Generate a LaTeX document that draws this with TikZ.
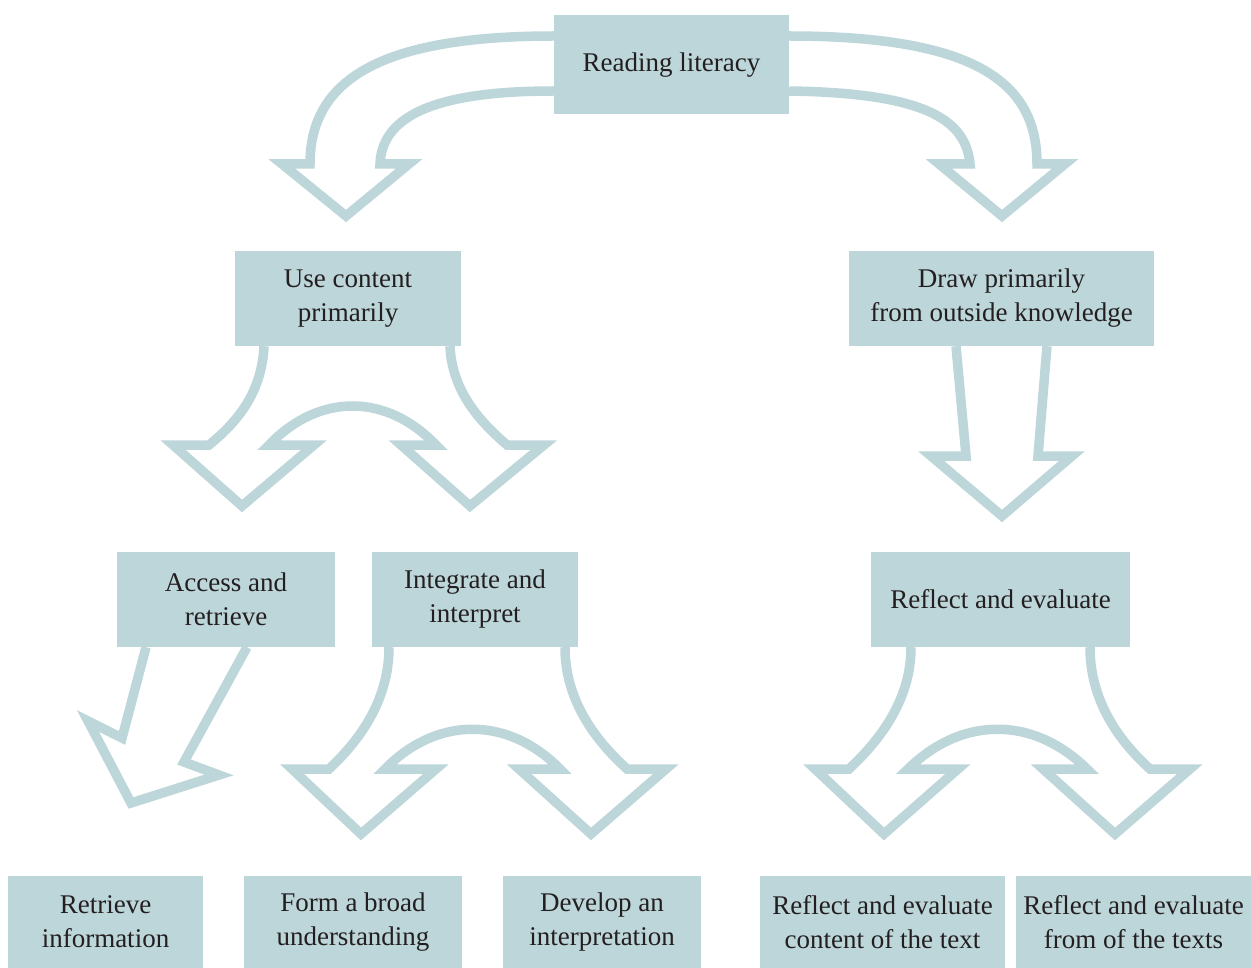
\documentclass[tikz,border=0pt]{standalone}
\usepackage{fontspec}
\setmainfont{Liberation Serif}
\definecolor{boxblue}{RGB}{189,214,218}
\definecolor{textgrey}{RGB}{35,31,32}

\begin{document}
\begin{tikzpicture}[x=1pt,y=-1pt,
  box/.style={fill=boxblue,text=textgrey,align=center,inner sep=0pt,
    font=\fontsize{27}{34}\selectfont},
  fat/.style={draw=boxblue,line width=9.5pt,fill=white,line join=miter}]
\useasboundingbox (0,0) rectangle (1251,968);
% boxes
\node[box,minimum width=235pt,minimum height=99pt] (READ) at (671.5,65) {Reading literacy};
\node[box,minimum width=226pt,minimum height=95pt] (CONTENT) at (348,298.5) {Use content\\primarily};
\node[box,minimum width=305pt,minimum height=95pt] (OUTSIDE) at (1001.5,298.5) {Draw primarily\\from outside knowledge};
\node[box,minimum width=218pt,minimum height=95pt] (ACCESS) at (226,599.5) {Access and\\retrieve};
\node[box,minimum width=206pt,minimum height=95pt] (INTEGRATE) at (475,599.5) {Integrate and\\interpret};
\node[box,minimum width=259pt,minimum height=95pt] (REFLECT) at (1000.5,599.5) {Reflect and evaluate};
\node[box,minimum width=195pt,minimum height=92pt] (RETRIEVE) at (105.5,922) {Retrieve\\information};
\node[box,minimum width=218pt,minimum height=92pt] (BROAD) at (353,922) {Form a broad\\understanding};
\node[box,minimum width=198pt,minimum height=92pt] (DEVELOP) at (602,922) {Develop an\\interpretation};
\node[box,minimum width=245pt,minimum height=92pt] (RCONTENT) at (882.5,922) {Reflect and evaluate\\content of the text};
\node[box,minimum width=235pt,minimum height=92pt] (RFORM) at (1133.5,922) {Reflect and evaluate\\from of the texts};
% block arrows
\draw[fat] (READ.west |- 0,36) .. controls (380,36) and (310,80) .. (310,164)
  -- (282,164) -- (346,216) -- (409,164) -- (380,164)
  .. controls (382,118) and (430,91) .. (READ.west |- 0,91);
\draw[fat] (READ.east |- 0,36) .. controls (980,36) and (1037,85) .. (1037,164)
  -- (1065,164) -- (1002,216) -- (939,164) -- (970,164)
  .. controls (966,122) and (930,93) .. (READ.east |- 0,91);
\draw[fat] (CONTENT.south -| 264,0) .. controls (262,390) and (240,420) .. (209,445)
  -- (173,445) -- (242,506) -- (314,445) -- (269,445)
  .. controls (319,393) and (386,393) .. (436,445)
  -- (401,445) -- (470,506) -- (544,445) -- (507,445)
  .. controls (478,420) and (452,390) .. (CONTENT.south -| 450,0);
\draw[fat] (OUTSIDE.south -| 956,0) -- (966,456) -- (931,456) -- (1002,516)
  -- (1072,456) -- (1038,456) -- (OUTSIDE.south -| 1047,0);
\draw[fat] (ACCESS.south -| 146,0) -- (122,738) -- (88,721) -- (131,803)
  -- (219,775) -- (184,762) -- (ACCESS.south -| 247,0);
\draw[fat] (INTEGRATE.south -| 389,0) .. controls (389,700) and (360,740) .. (329,769)
  -- (292,769) -- (361,834) -- (436,769) -- (385,769)
  .. controls (437,716) and (508,716) .. (560,769)
  -- (519,769) -- (591,834) -- (666,769) -- (627,769)
  .. controls (595,740) and (565,700) .. (INTEGRATE.south -| 565,0);
\draw[fat] (REFLECT.south -| 911,0) .. controls (911,700) and (880,740) .. (849,769)
  -- (815,769) -- (884,834) -- (958,769) -- (908,769)
  .. controls (962,716) and (1033,716) .. (1087,769)
  -- (1043,769) -- (1115,834) -- (1190,769) -- (1150,769)
  .. controls (1118,740) and (1090,700) .. (REFLECT.south -| 1090,0);
\end{tikzpicture}
\end{document}
